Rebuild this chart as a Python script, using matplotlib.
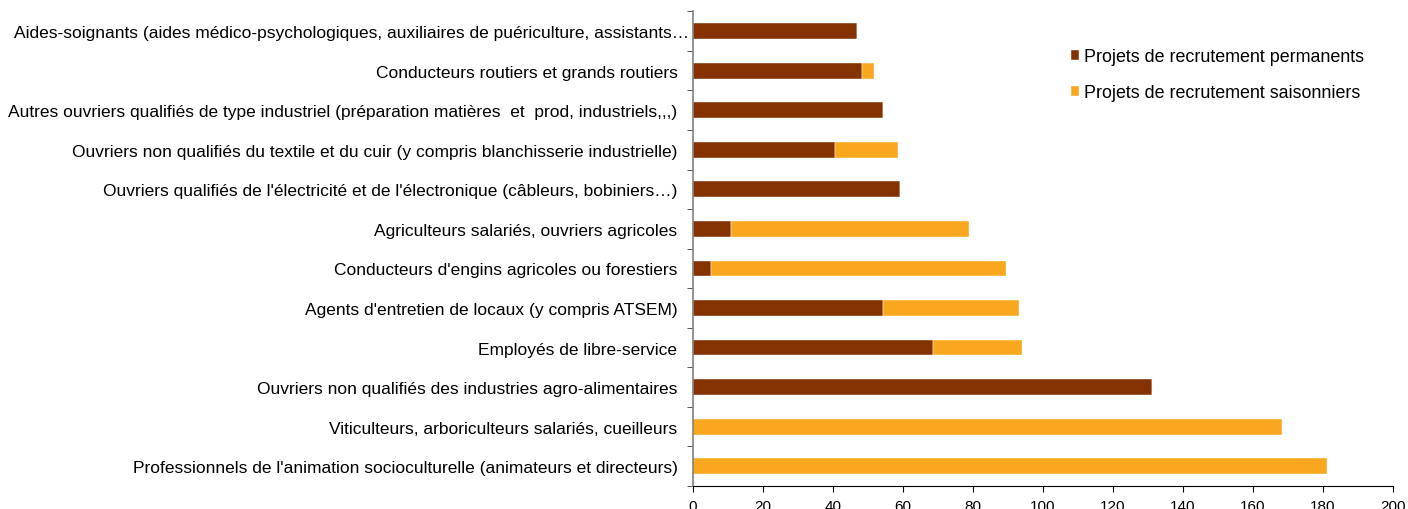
import numpy as np
from matplotlib import pyplot as plt
from matplotlib.transforms import ScaledTranslation

plt.rcParams['font.family'] = ['Liberation Sans', 'DejaVu Sans']

# Data (top to bottom as shown)
categories = [
    "Aides-soignants (aides médico-psychologiques, auxiliaires de puériculture, assistants…",
    "Conducteurs routiers et grands routiers",
    "Autres ouvriers qualifiés de type industriel (préparation matières  et  prod, industriels,,,)",
    "Ouvriers non qualifiés du textile et du cuir (y compris blanchisserie industrielle)",
    "Ouvriers qualifiés de l'électricité et de l'électronique (câbleurs, bobiniers…)",
    "Agriculteurs salariés, ouvriers agricoles",
    "Conducteurs d'engins agricoles ou forestiers",
    "Agents d'entretien de locaux (y compris ATSEM)",
    "Employés de libre-service",
    "Ouvriers non qualifiés des industries agro-alimentaires",
    "Viticulteurs, arboriculteurs salariés, cueilleurs",
    "Professionnels de l'animation socioculturelle (animateurs et directeurs)",
]
permanents = [47, 48.4, 54.3, 40.6, 59.2, 10.9, 5.2, 54.5, 68.8, 131.3, 0, 0]
saisonniers = [0, 3.4, 0, 18.2, 0, 68.1, 84.2, 38.7, 25.2, 0, 168.3, 181.3]

col_perm = '#833200'
col_sais = '#F9A71F'

fig = plt.figure(figsize=(14.08, 5.10), dpi=100)
ax = fig.add_axes([0.492, 0.045, 0.497, 0.931])

y = np.arange(len(categories))
ax.barh(y, permanents, height=0.4, color=col_perm, edgecolor='white', linewidth=0.3,
        label='Projets de recrutement permanents')
ax.barh(y, saisonniers, left=permanents, height=0.4, color=col_sais, edgecolor='white',
        linewidth=0.3, label='Projets de recrutement saisonniers')

ax.set_ylim(len(categories) - 0.5, -0.5)
ax.set_xlim(0, 200)
ax.set_xticks(np.arange(0, 201, 20))
ax.set_yticks(y)
ax.set_yticklabels(categories, fontsize=12.5)
ax.tick_params(axis='y', length=0, pad=11)
ax.set_yticks(np.arange(-0.5, len(categories), 1), minor=True)
ax.tick_params(axis='y', which='minor', length=4, color='#404040')
ax.tick_params(axis='x', labelsize=11, length=4, direction='out', pad=5)

# the long first label runs up to the axis in the original
lab0 = ax.get_yticklabels()[0]
lab0.set_transform(lab0.get_transform() + ScaledTranslation(0.12, 0, fig.dpi_scale_trans))

for s in ['top', 'right']:
    ax.spines[s].set_visible(False)
ax.spines['left'].set_color('#808080')
ax.spines['left'].set_linewidth(1.2)
ax.spines['bottom'].set_color('black')

ax.legend(loc='upper left', bbox_to_anchor=(0.541, 0.922), frameon=False, fontsize=12.9,
          handlelength=0.45, handleheight=0.45, handletextpad=0.25, labelspacing=1.05,
          borderaxespad=0, borderpad=0)

plt.savefig('out.png', dpi=100)
